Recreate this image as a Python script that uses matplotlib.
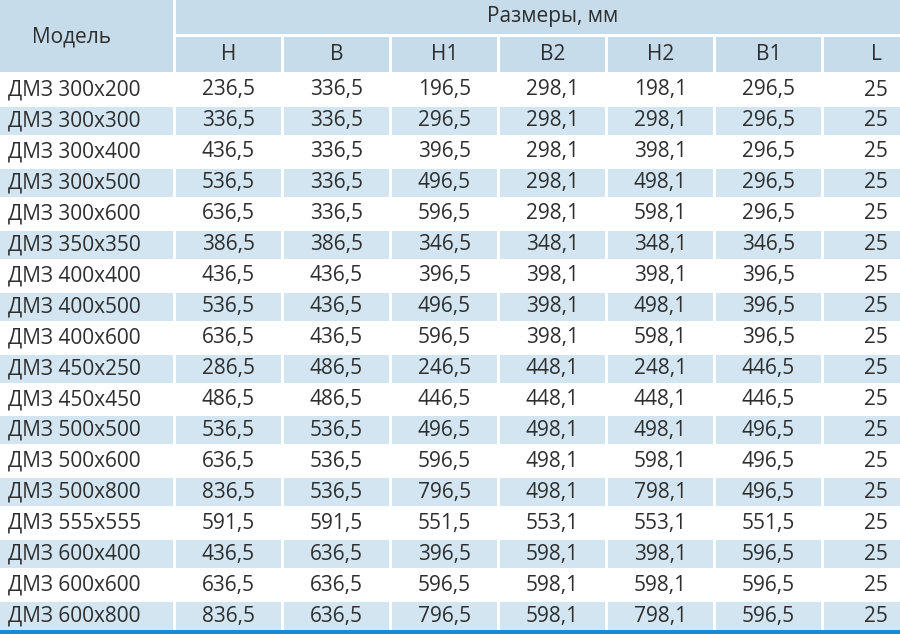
import matplotlib.pyplot as plt
from matplotlib.patches import Rectangle

plt.rcParams['font.family'] = ['Open Sans', 'DejaVu Sans']

models = ["ДМЗ 300x200", "ДМЗ 300x300", "ДМЗ 300x400", "ДМЗ 300x500",
          "ДМЗ 300x600", "ДМЗ 350x350", "ДМЗ 400x400", "ДМЗ 400x500",
          "ДМЗ 400x600", "ДМЗ 450x250", "ДМЗ 450x450", "ДМЗ 500x500",
          "ДМЗ 500x600", "ДМЗ 500x800", "ДМЗ 555x555", "ДМЗ 600x400",
          "ДМЗ 600x600", "ДМЗ 600x800"]
col_names = ["H", "B", "H1", "B2", "H2", "B1", "L"]

H = [236.5, 336.5, 436.5, 536.5, 636.5, 386.5, 436.5, 536.5, 636.5,
     286.5, 486.5, 536.5, 636.5, 836.5, 591.5, 436.5, 636.5, 836.5]
B = [336.5, 336.5, 336.5, 336.5, 336.5, 386.5, 436.5, 436.5, 436.5,
     486.5, 486.5, 536.5, 536.5, 536.5, 591.5, 636.5, 636.5, 636.5]
H1 = [196.5, 296.5, 396.5, 496.5, 596.5, 346.5, 396.5, 496.5, 596.5,
      246.5, 446.5, 496.5, 596.5, 796.5, 551.5, 396.5, 596.5, 796.5]
B2 = [298.1, 298.1, 298.1, 298.1, 298.1, 348.1, 398.1, 398.1, 398.1,
      448.1, 448.1, 498.1, 498.1, 498.1, 553.1, 598.1, 598.1, 598.1]
H2 = [198.1, 298.1, 398.1, 498.1, 598.1, 348.1, 398.1, 498.1, 598.1,
      248.1, 448.1, 498.1, 598.1, 798.1, 553.1, 398.1, 598.1, 798.1]
B1 = [296.5, 296.5, 296.5, 296.5, 296.5, 346.5, 396.5, 396.5, 396.5,
      446.5, 446.5, 496.5, 496.5, 496.5, 551.5, 596.5, 596.5, 596.5]
L = [25] * 18

columns = [H, B, H1, B2, H2, B1, L]

HEAD = "#c6dcea"
STRIPE = "#d3e5f0"
TEXT = "#2e2e2e"
LINE = "#1a8ad4"
FS = 15


def fmt(v):
    if isinstance(v, int):
        return str(v)
    return f"{v:.1f}".replace(".", ",")


fig = plt.figure(figsize=(9, 6.41), dpi=100)
ax = fig.add_axes([0, 0, 1, 1])
ax.set_xlim(0, 900)
ax.set_ylim(641, 0)
ax.axis("off")

# column geometry
model_w = 173
col_x0 = 175.5
col_step = 108
col_w = 105.5
row_top = 76
row_step = 30.95
row_h = 28

# header
ax.add_patch(Rectangle((0, 0), model_w, 72, color=HEAD, lw=0))
ax.add_patch(Rectangle((col_x0, 0), 900 - col_x0, 33.5, color=HEAD, lw=0))
ax.text(72, 37, "Модель", ha="center", va="center", fontsize=FS, color=TEXT)
ax.text(col_x0 + col_step * 7 / 2 - 1, 16.5, "Размеры, мм", ha="center",
        va="center", fontsize=FS, color=TEXT)
for i, name in enumerate(col_names):
    x = col_x0 + i * col_step
    ax.add_patch(Rectangle((x, 36.5), col_w, 35.5, color=HEAD, lw=0))
    ax.text(x + col_w / 2, 55, name, ha="center", va="center",
            fontsize=FS, color=TEXT)

# body
for r, model in enumerate(models):
    y = row_top + r * row_step
    if r % 2 == 1:
        ax.add_patch(Rectangle((0, y), model_w, row_h, color=STRIPE, lw=0))
        for i in range(len(columns)):
            ax.add_patch(Rectangle((col_x0 + i * col_step, y), col_w, row_h,
                                   color=STRIPE, lw=0))
    yc = y + row_h / 2
    ax.text(8, yc, model, ha="left", va="center", fontsize=FS, color=TEXT)
    for i, col in enumerate(columns):
        ax.text(col_x0 + i * col_step + col_w / 2, yc, fmt(col[r]),
                ha="center", va="center", fontsize=FS, color=TEXT)

# bottom line
ax.add_patch(Rectangle((0, 630), 900, 4, color=LINE, lw=0))

fig.savefig("out.png", dpi=100)
